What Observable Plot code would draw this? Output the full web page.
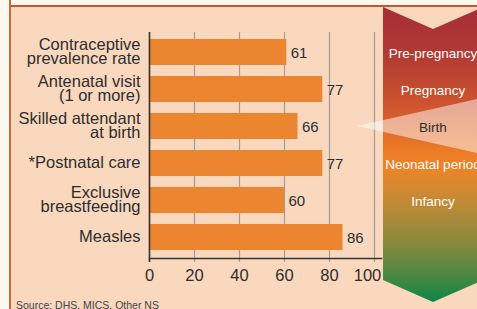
<!DOCTYPE html>
<html><head><meta charset="utf-8">
<script src="https://cdn.jsdelivr.net/npm/d3@7"></script>
<script src="https://cdn.jsdelivr.net/npm/@observablehq/plot@0.6"></script>
<style>
html,body{margin:0;padding:0;background:#fdf9f1;}
#chart{width:477px;height:309px;overflow:hidden;}
svg{display:block;}
</style></head><body><div id="chart"></div>
<script>
const categories = ["Contraceptive\nprevalence rate","Antenatal visit\n(1 or more)","Skilled attendant\nat birth","*Postnatal care","Exclusive\nbreastfeeding","Measles"];
const values = [61,77,66,77,60,86];
const xTicks = [0,20,40,60,80,100];
const stages = ["Pre-pregnancy","Pregnancy","Birth","Neonatal period","Infancy"];
const sourceText = "Source: DHS, MICS, Other NS";

const data = categories.map((c,i)=>({category:c, value:values[i]}));
const W=477,H=309;
const font = "'Liberation Sans', Arial, sans-serif";
const grid = "#a39d97", dark = "#3a3431", txt = "#2e2e2e";

const plot = Plot.plot({
  width: W, height: H,
  marginLeft:149, marginRight:103, marginTop:32, marginBottom:51,
  style:{fontFamily:font, background:"transparent", color:txt, overflow:"hidden"},
  x:{domain:[0,100], axis:null, label:null},
  y:{domain:categories, paddingInner:0.286, paddingOuter:0.13, axis:null, label:null},
  marks:[
    Plot.gridX(xTicks, {stroke:grid, strokeOpacity:1, strokeWidth:1.2}),
    Plot.axisX(xTicks, {tickSize:4, tickFormat:()=>"", stroke:grid, strokeWidth:1.2, label:null}),
    Plot.axisX(xTicks.slice(0,-1), {tickSize:0, tickPadding:11, fontSize:16.5, fill:txt, tickFormat:d=>String(d), label:null}),
    Plot.axisX(xTicks.slice(-1), {tickSize:0, tickPadding:11, dx:-7, fontSize:16.5, fill:txt, tickFormat:d=>String(d), label:null}),
    Plot.barX(data, {x:"value", y:"category", fill:"#ec8530"}),
    Plot.ruleX([0], {stroke:dark, strokeWidth:1.6, insetBottom:-4}),
    Plot.frame({anchor:"bottom", stroke:dark, strokeWidth:1.6, insetRight:-7}),
    Plot.text(data, {y:"category", text:"category", frameAnchor:"left", textAnchor:"end", dx:-9, fontSize:16.5, lineHeight:0.87, fill:txt}),
    Plot.text(data, {x:"value", y:"category", text:d=>String(d.value), textAnchor:"start", dx:4, dy:1, fontSize:15, fill:txt})
  ]
});
document.getElementById("chart").appendChild(plot);

const svg = d3.select(plot);
// panel background
const bg = svg.insert("g", ":first-child");
bg.append("rect").attr("x",0).attr("y",0).attr("width",W).attr("height",H).attr("fill","#fdf9f1");
bg.append("rect").attr("x",10).attr("y",6).attr("width",W).attr("height",H).attr("fill","#f9d8be");
bg.append("line").attr("x1",10).attr("x2",10).attr("y1",0).attr("y2",H).attr("stroke","#c4582c").attr("stroke-width",1.8);
bg.append("line").attr("x1",10).attr("x2",W).attr("y1",6).attr("y2",6).attr("stroke","#c4582c").attr("stroke-width",1.8);

// gradient arrow
const defs = svg.append("defs");
const lg = defs.append("linearGradient").attr("id","stageGrad").attr("x1",0).attr("y1",0).attr("x2",0).attr("y2",1);
[[0,"#a52d38"],[0.18,"#b43c33"],[0.35,"#d1582d"],[0.49,"#ee7c26"],[0.56,"#e8852b"],[0.66,"#c38a36"],[0.79,"#8c8a3d"],[0.92,"#468743"],[1,"#0a8646"]]
  .forEach(([o,c])=>lg.append("stop").attr("offset",o).attr("stop-color",c));
const ov = svg.append("g").attr("text-anchor","start");
ov.append("path").attr("d","M383,7 L433,29 L483,7 L483,280 L433,302 L383,280 Z").attr("fill","url(#stageGrad)");

const ys = plot.scale("y");
const yc = c => ys.apply(c) + ys.bandwidth/2;
const yb = yc(categories[2]);
ov.append("path").attr("d",`M357,${yb} L490,${yb-30} L490,${yb+30} Z`).attr("fill","#ffffff").attr("fill-opacity",0.5);

stages.forEach((s,i)=>{
  ov.append("text").attr("x",433).attr("y",yc(categories[i]) + 1).attr("dy","0.35em")
    .attr("text-anchor","middle").attr("font-size",13.5).attr("font-family",font)
    .attr("fill", s==="Birth" ? txt : "#ffffff").text(s);
});

ov.append("text").attr("x",16).attr("y",309).attr("text-anchor","start").attr("font-size",10.5).attr("font-family",font)
  .attr("fill","#444").text(sourceText);
</script></body></html>
